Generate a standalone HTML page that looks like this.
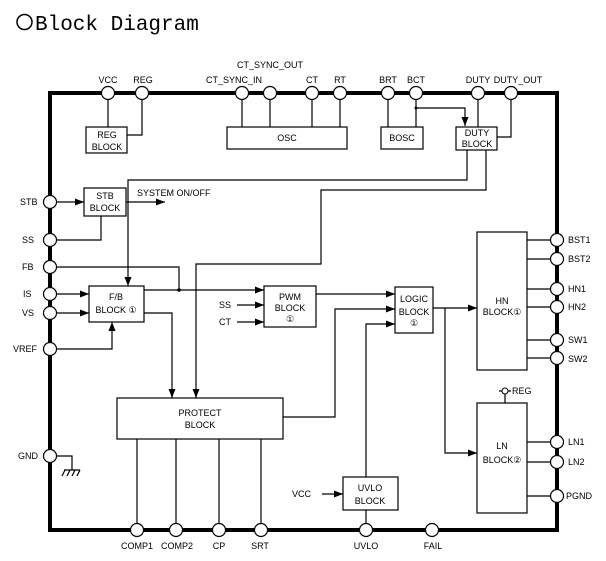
<!DOCTYPE html>
<html><head><meta charset="utf-8"><style>
html,body{margin:0;padding:0;background:#fff;}
svg{display:block;}
text{font-family:"Liberation Sans",sans-serif;font-size:9px;fill:#000;}
.t{font-family:"Liberation Mono","Noto Sans CJK JP",monospace;font-size:21px;}
.c{text-anchor:middle;}
</style></head><body>
<svg width="606" height="561" viewBox="0 0 606 561" xmlns="http://www.w3.org/2000/svg">
<defs><marker id="a" markerWidth="9" markerHeight="7" refX="9" refY="3.5" orient="auto" markerUnits="userSpaceOnUse"><path d="M0,0 L9,3.5 L0,7z" fill="#000"/></marker></defs>
<circle cx="24.5" cy="22" r="7.5" fill="none" stroke="#000" stroke-width="1.5"/>
<text class="t" x="35" y="30">Block Diagram</text>
<rect x="50" y="93" width="507" height="437" fill="none" stroke="#000" stroke-width="4"/>
<g fill="none" stroke="#000" stroke-width="1.2">
<path d="M108,93V127M142,93V135H127M242,93V127M270,93V127M312,93V127M340,93V127M388,93V127M416,93V127"/>
<path d="M416,108H465V126" marker-end="url(#a)"/>
<path d="M478,93V127M511,93V137H497"/>
<path d="M467,150V180H128V286" marker-end="url(#a)"/>
<path d="M486,150V190H321V264H196V398" marker-end="url(#a)"/>
<path d="M50,202H84" marker-end="url(#a)"/>
<path d="M126,202H165" marker-end="url(#a)"/>
<path d="M50,240H101V216"/>
<path d="M50,267H179V290"/>
<path d="M50,294H89" marker-end="url(#a)"/>
<path d="M50,313H89" marker-end="url(#a)"/>
<path d="M50,349H112V322" marker-end="url(#a)"/>
<path d="M144,290H264" marker-end="url(#a)"/>
<path d="M144,313H172V398" marker-end="url(#a)"/>
<path d="M237,305H264" marker-end="url(#a)"/>
<path d="M237,322H264" marker-end="url(#a)"/>
<path d="M316,294H395" marker-end="url(#a)"/>
<path d="M283,417H335V309H395" marker-end="url(#a)"/>
<path d="M366,477V324H395" marker-end="url(#a)"/>
<path d="M322,494H343" marker-end="url(#a)"/>
<path d="M366,510V530"/>
<path d="M433,308H477" marker-end="url(#a)"/>
<path d="M445,308V453H477" marker-end="url(#a)"/>
<path d="M527,240H557M527,259H557M527,289H557M527,307H557M527,340H557M527,358H557"/>
<path d="M527,442H557M527,462H557M527,496H557"/>
<path d="M505,403V394M499,391H511"/>
<path d="M137,439V530M176,439V530M219,439V530M261,439V530"/>
<path d="M50,456H72V470M64,470H80M65,470L62,476M70,470L67,476M75,470L72,476M80,470L77,476"/>
<rect x="86" y="127" width="41" height="26"/>
<rect x="227" y="127" width="120" height="22"/>
<rect x="381" y="127" width="42" height="22"/>
<rect x="456" y="127" width="41" height="23"/>
<rect x="84" y="188" width="42" height="28"/>
<rect x="89" y="286" width="55" height="36"/>
<rect x="264" y="286" width="52" height="41"/>
<rect x="395" y="287" width="38" height="46"/>
<rect x="477" y="232" width="50" height="138"/>
<rect x="477" y="403" width="50" height="110"/>
<rect x="117" y="398" width="166" height="41"/>
<rect x="343" y="477" width="55" height="33"/>
</g>
<circle cx="179" cy="290" r="1.8"/><circle cx="416" cy="108" r="1.5"/>
<circle cx="505" cy="391" r="3" fill="#fff" stroke="#000"/>
<g fill="#fff" stroke="#000" stroke-width="1.2">
<circle cx="108" cy="93" r="6.5"/><circle cx="142" cy="93" r="6.5"/><circle cx="242" cy="93" r="6.5"/><circle cx="270" cy="93" r="6.5"/><circle cx="312" cy="93" r="6.5"/><circle cx="340" cy="93" r="6.5"/><circle cx="388" cy="93" r="6.5"/><circle cx="416" cy="93" r="6.5"/><circle cx="478" cy="93" r="6.5"/><circle cx="511" cy="93" r="6.5"/>
<circle cx="50" cy="202" r="6.5"/><circle cx="50" cy="240" r="6.5"/><circle cx="50" cy="267" r="6.5"/><circle cx="50" cy="294" r="6.5"/><circle cx="50" cy="313" r="6.5"/><circle cx="50" cy="349" r="6.5"/><circle cx="50" cy="456" r="6.5"/>
<circle cx="557" cy="240" r="6.5"/><circle cx="557" cy="259" r="6.5"/><circle cx="557" cy="289" r="6.5"/><circle cx="557" cy="307" r="6.5"/><circle cx="557" cy="340" r="6.5"/><circle cx="557" cy="358" r="6.5"/><circle cx="557" cy="442" r="6.5"/><circle cx="557" cy="462" r="6.5"/><circle cx="557" cy="496" r="6.5"/>
<circle cx="137" cy="530" r="6.5"/><circle cx="176" cy="530" r="6.5"/><circle cx="219" cy="530" r="6.5"/><circle cx="261" cy="530" r="6.5"/><circle cx="366" cy="530" r="6.5"/><circle cx="432" cy="530" r="6.5"/>
</g>
<g>
<text class="c" x="108" y="83">VCC</text><text class="c" x="143" y="83">REG</text><text class="c" x="234" y="83">CT_SYNC_IN</text><text class="c" x="270" y="68">CT_SYNC_OUT</text><text class="c" x="312" y="83">CT</text><text class="c" x="340" y="83">RT</text><text class="c" x="388" y="83">BRT</text><text class="c" x="416" y="83">BCT</text><text class="c" x="478" y="83">DUTY</text><text class="c" x="518" y="83">DUTY_OUT</text>
<text class="c" x="107" y="138">REG</text><text class="c" x="107" y="150">BLOCK</text>
<text class="c" x="287" y="141">OSC</text><text class="c" x="402" y="141">BOSC</text>
<text class="c" x="477" y="136">DUTY</text><text class="c" x="477" y="147">BLOCK</text>
<text class="c" x="105" y="199">STB</text><text class="c" x="105" y="211">BLOCK</text>
<text x="137" y="196">SYSTEM  ON/OFF</text>
<text x="20" y="205">STB</text><text x="22" y="243">SS</text><text x="22" y="270">FB</text><text x="23" y="297">IS</text><text x="22" y="316">VS</text><text x="13" y="352">VREF</text><text x="18" y="459">GND</text>
<text class="c" x="116" y="300">F/B</text><text class="c" x="116" y="313">BLOCK ①</text>
<text x="219" y="308">SS</text><text x="219" y="325">CT</text>
<text class="c" x="290" y="300">PWM</text><text class="c" x="290" y="311">BLOCK</text><text class="c" x="290" y="322">①</text>
<text class="c" x="414" y="302">LOGIC</text><text class="c" x="414" y="315">BLOCK</text><text class="c" x="414" y="326">①</text>
<text class="c" x="502" y="304">HN</text><text class="c" x="502" y="315">BLOCK①</text>
<text class="c" x="502" y="449">LN</text><text class="c" x="502" y="463">BLOCK②</text>
<text x="512" y="394">REG</text>
<text class="c" x="200" y="416">PROTECT</text><text class="c" x="200" y="428">BLOCK</text>
<text class="c" x="370" y="491">UVLO</text><text class="c" x="370" y="504">BLOCK</text>
<text x="292" y="497">VCC</text>
<text x="568" y="243">BST1</text><text x="568" y="262">BST2</text><text x="568" y="292">HN1</text><text x="568" y="310">HN2</text><text x="568" y="343">SW1</text><text x="568" y="362">SW2</text><text x="568" y="445">LN1</text><text x="568" y="465">LN2</text><text x="566" y="499">PGND</text>
<text class="c" x="137" y="549">COMP1</text><text class="c" x="177" y="549">COMP2</text><text class="c" x="219" y="549">CP</text><text class="c" x="260" y="549">SRT</text><text class="c" x="366" y="549">UVLO</text><text class="c" x="433" y="549">FAIL</text>
</g>
</svg>
</body></html>
